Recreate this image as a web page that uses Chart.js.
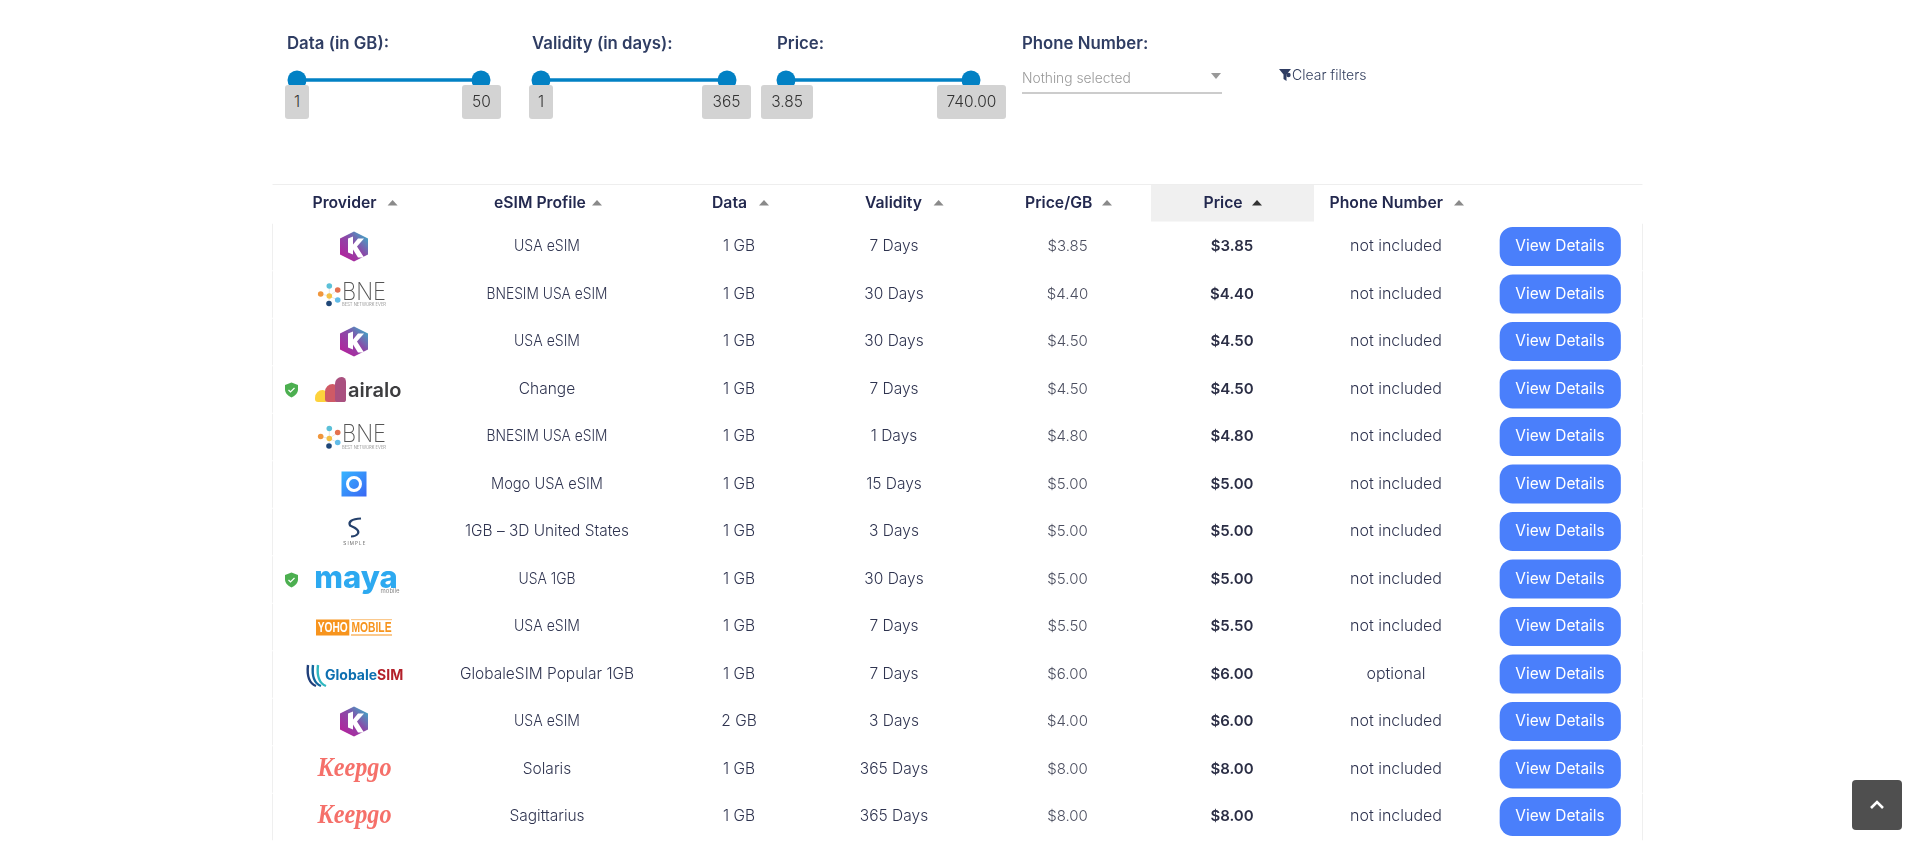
<!DOCTYPE html>
<html>
<head>
<meta charset="utf-8">
<script src="https://cdn.jsdelivr.net/npm/chart.js@4"></script>
<style>
  html, body { margin: 0; background: #fff; overflow: hidden; }
  body { width: 1915px; height: 842px; position: relative; font-family: Inter, sans-serif; }
  #table-chart { position: absolute; left: 0; top: 0; }
  .slider { position: absolute; top: 60px; height: 40px; }
  .flabel { position: absolute; top: 33px; font: 600 16.8px/20px Inter; color: #2f3d63; white-space: nowrap; }
  .fval { position: absolute; top: 85px; height: 34px; background: #d3d3d3; border-radius: 3px;
          font: 300 15.5px/34px Inter; color: #333; text-align: center; }
  #ddtext { position: absolute; left: 1022px; top: 68px; font: 300 13.8px/20px Inter; color: #999; white-space: nowrap; }
  #ddline { position: absolute; left: 1022px; top: 92px; width: 200px; height: 1.5px; background: #ccc; }
  #ddcaret { position: absolute; left: 1211px; top: 73px; width: 0; height: 0;
             border-left: 5px solid transparent; border-right: 5px solid transparent; border-top: 6px solid #999; }
  #clear { position: absolute; left: 1292px; top: 65px; font: 300 14px/20px Inter; color: #333f5e; white-space: nowrap; }
  #funnel { position: absolute; left: 1279px; top: 69px; }
  #totop { position: absolute; left: 1852px; top: 780px; width: 50px; height: 50px; background: #4f4f4f; border-radius: 4px; }
</style>
</head>
<body>
<canvas id="table-chart" width="1915" height="842"></canvas>

<div class="flabel" style="left:287px">Data (in GB):</div>
<div class="flabel" style="left:532px">Validity (in days):</div>
<div class="flabel" style="left:777px">Price:</div>
<div class="flabel" style="left:1022px">Phone Number:</div>

<canvas class="slider" id="slider-data" style="left:277px"></canvas>
<canvas class="slider" id="slider-validity" style="left:521px"></canvas>
<canvas class="slider" id="slider-price" style="left:766px"></canvas>

<div class="fval" style="left:285px;width:24px">1</div>
<div class="fval" style="left:462px;width:39px">50</div>
<div class="fval" style="left:529px;width:24px">1</div>
<div class="fval" style="left:702px;width:49px">365</div>
<div class="fval" style="left:761px;width:52px">3.85</div>
<div class="fval" style="left:937px;width:69px">740.00</div>

<div id="ddtext">Nothing selected</div>
<div id="ddcaret"></div>
<div id="ddline"></div>
<svg id="funnel" width="13" height="12" viewBox="0 0 13 12"><path d="M0 0h12L7.5 5.5V12L4.5 10V5.5z" fill="#2f3d63"/><circle cx="9.5" cy="6" r="2.2" fill="#2f3d63"/></svg>
<div id="clear">Clear filters</div>

<div id="totop"><svg width="50" height="50"><path d="M19 28l6-6 6 6" fill="none" stroke="#fff" stroke-width="2.6"/></svg></div>

<script>
// table content
const headers = ['Provider', 'eSIM Profile', 'Data', 'Validity', 'Price/GB', 'Price', 'Phone Number'];
const providers = ['kolet', 'bne', 'kolet', 'airalo', 'bne', 'mogo', 'simple', 'maya', 'yoho', 'globale', 'kolet', 'keepgo', 'keepgo'];
const profiles = ['USA eSIM', 'BNESIM USA eSIM', 'USA eSIM', 'Change', 'BNESIM USA eSIM', 'Mogo USA eSIM', '1GB – 3D United States',
  'USA 1GB', 'USA eSIM', 'GlobaleSIM Popular 1GB', 'USA eSIM', 'Solaris', 'Sagittarius'];
const dataGb = [1, 1, 1, 1, 1, 1, 1, 1, 1, 1, 2, 1, 1];
const validityDays = [7, 30, 30, 7, 1, 15, 3, 30, 7, 7, 3, 365, 365];
const pricePerGb = [3.85, 4.40, 4.50, 4.50, 4.80, 5.00, 5.00, 5.00, 5.50, 6.00, 4.00, 8.00, 8.00];
const prices = [3.85, 4.40, 4.50, 4.50, 4.80, 5.00, 5.00, 5.00, 5.50, 6.00, 6.00, 8.00, 8.00];
const phoneNumber = ['not included', 'not included', 'not included', 'not included', 'not included', 'not included', 'not included',
  'not included', 'not included', 'optional', 'not included', 'not included', 'not included'];
const verified = ['airalo', 'maya'];

// slider ranges
const dataRange = [1, 50];
const validityRange = [1, 365];
const priceRange = [3.85, 740];

// layout of the table, in pixels of the x scale
const colCenter = [354, 547, 739, 894, 1067.5, 1232, 1396, 1560];
const headLeft = [312.5, 494, 712, 865, 1025, 1203.5, 1329.5];
const headArrow = [392.6, 597, 764, 938.6, 1107, 1257, 1459];
const tableLeft = 272.5, tableRight = 1642.5;
const buttonLeft = 1500, buttonRight = 1620.5;

// the reference font has narrow capitals, so these strings get squeezed a bit
const profileFit = { 'USA eSIM': 66, 'BNESIM USA eSIM': 121, 'Mogo USA eSIM': 112, '1GB – 3D United States': 164, 'USA 1GB': 57 };

const BODY = '300 15.5px Inter';
const BOLD = '600 15px Inter';
const HEAD = '600 15.75px Inter';
const INK = '#2f3450';

function drawText(ctx, text, x, y, font, color, align, maxWidth) {
  ctx.font = font;
  ctx.fillStyle = color;
  ctx.textAlign = align || 'center';
  ctx.textBaseline = 'middle';
  if (maxWidth) ctx.fillText(text, x, y, maxWidth);
  else ctx.fillText(text, x, y);
}

// provider logos, roughly, centred on (x, y)
function drawLogo(ctx, name, x, y) {
  ctx.save();
  ctx.translate(x, y);
  if (name === 'kolet') {
    const g = ctx.createLinearGradient(-12, 12, 12, -12);
    g.addColorStop(0, '#b5209c');
    g.addColorStop(0.55, '#8a4aa8');
    g.addColorStop(1, '#3fa8c6');
    ctx.fillStyle = g;
    ctx.beginPath();
    ctx.moveTo(0, -15); ctx.lineTo(14, -8); ctx.lineTo(14, 8); ctx.lineTo(0, 15); ctx.lineTo(-14, 8); ctx.lineTo(-14, -8);
    ctx.closePath();
    ctx.fill();
    ctx.fillStyle = '#fff';
    ctx.beginPath();
    ctx.moveTo(-6, -8); ctx.lineTo(-1, -10); ctx.lineTo(-1, -2); ctx.lineTo(4, -8); ctx.lineTo(10, -8); ctx.lineTo(3, 0);
    ctx.lineTo(10, 11); ctx.lineTo(4, 11); ctx.lineTo(-1, 3); ctx.lineTo(-1, 8); ctx.lineTo(-6, 6);
    ctx.closePath();
    ctx.fill();
  } else if (name === 'bne') {
    const dots = [[-24.7, -8, '#5bc0d8'], [-16.3, -4, '#e4714f'], [-33.3, 0, '#f0963c'], [-24.7, 2, '#f3c145'], [-16.3, 6, '#62bce8'], [-25, 9.5, '#1f4778']];
    ctx.strokeStyle = '#ddd';
    ctx.lineWidth = 0.7;
    ctx.beginPath();
    dots.forEach(d => { ctx.moveTo(-24.7, 2); ctx.lineTo(d[0], d[1]); });
    ctx.stroke();
    dots.forEach(d => {
      ctx.fillStyle = d[2];
      ctx.beginPath();
      ctx.arc(d[0], d[1], 2.8, 0, Math.PI * 2);
      ctx.fill();
    });
    drawText(ctx, 'BNE', -12, -1.5, '200 24px Inter', '#555', 'left', 44);
    drawText(ctx, 'BEST NETWORK EVER', -12, 11, '300 4.6px Inter', '#777', 'left', 44);
  } else if (name === 'airalo') {
    const hill = (l, t, r, c) => {
      ctx.fillStyle = c;
      ctx.beginPath();
      ctx.roundRect(l, t, r - l, 13 - t, [10, 7, 4, 4]);
      ctx.fill();
    };
    hill(-39, 1, -26, '#fdd23c');
    hill(-29, -5, -16, '#cf5a66');
    hill(-19, -12, -8, '#a9507f');
    drawText(ctx, 'airalo', -6, 1.5, '600 20px Inter', '#3d3d3f', 'left');
  } else if (name === 'mogo') {
    const g = ctx.createLinearGradient(-12, -12, 12, 12);
    g.addColorStop(0, '#35b4ff');
    g.addColorStop(1, '#3a68f4');
    ctx.fillStyle = g;
    ctx.fillRect(-12.5, -12.5, 25, 25);
    ctx.strokeStyle = '#fff';
    ctx.lineWidth = 3;
    ctx.beginPath();
    ctx.arc(0, 0, 6.5, 0, Math.PI * 2);
    ctx.stroke();
  } else if (name === 'simple') {
    ctx.strokeStyle = '#24406b';
    ctx.lineWidth = 2.2;
    ctx.beginPath();
    ctx.moveTo(7, -13); ctx.quadraticCurveTo(-7, -12, -4, -6); ctx.quadraticCurveTo(6, -2, 4, 2); ctx.quadraticCurveTo(2, 5, -3, 5);
    ctx.stroke();
    ctx.letterSpacing = '1.2px';
    drawText(ctx, 'SIMPLE', 1, 12, '300 4.5px Inter', '#333', 'center');
    ctx.letterSpacing = '0px';
  } else if (name === 'maya') {
    drawText(ctx, 'maya', 2, -0.5, '800 31px Inter', '#2da9f0', 'center', 84);
    drawText(ctx, 'mobile', 36, 12, '400 6px Inter', '#888', 'center');
  } else if (name === 'yoho') {
    ctx.fillStyle = '#f7941d';
    ctx.fillRect(-38, -7, 33.3, 16);
    ctx.fillRect(-3, 8, 41, 1);
    ctx.fillRect(-3, -7, 41, 0.6);
    drawText(ctx, 'YOHO', -21.3, 1.5, '700 15px "Liberation Sans"', '#fff', 'center', 30);
    drawText(ctx, 'MOBILE', 17.5, 1.5, '700 15px "Liberation Sans"', '#f7941d', 'center', 40);
  } else if (name === 'globale') {
    ctx.lineWidth = 2.4;
    [['#1f3f7a', -46], ['#12669e', -41], ['#2fb8c0', -36]].forEach(s => {
      ctx.strokeStyle = s[0];
      ctx.beginPath();
      ctx.moveTo(s[1], -9);
      ctx.quadraticCurveTo(s[1] - 2, 8, s[1] + 8, 12);
      ctx.stroke();
    });
    drawText(ctx, 'Globale', -29, 2, '700 14px Inter', '#0d6fb0', 'left');
    ctx.font = '700 14px Inter';
    const w = ctx.measureText('Globale').width;
    drawText(ctx, 'SIM', -29 + w, 2, '700 14px Inter', '#b3202a', 'left');
  } else if (name === 'keepgo') {
    drawText(ctx, 'Keepgo', 0.5, 0, 'italic 700 27px "Liberation Serif"', '#f5706a', 'center', 74);
  }
  ctx.restore();
}

function drawShield(ctx, x, y) {
  ctx.save();
  ctx.translate(x, y);
  ctx.fillStyle = '#4caf50';
  ctx.beginPath();
  ctx.moveTo(0, -7.5); ctx.lineTo(6.5, -5); ctx.lineTo(6.5, 0);
  ctx.quadraticCurveTo(6, 5, 0, 7.5);
  ctx.quadraticCurveTo(-6, 5, -6.5, 0);
  ctx.lineTo(-6.5, -5);
  ctx.closePath();
  ctx.fill();
  ctx.strokeStyle = '#fff';
  ctx.lineWidth = 1.2;
  ctx.beginPath();
  ctx.moveTo(-3, 0); ctx.lineTo(-1, 2); ctx.lineTo(3, -2);
  ctx.stroke();
  ctx.restore();
}

// header strip, cell text and logos are hung on the chart's scales
const tablePlugin = {
  id: 'tablePlugin',
  beforeDatasetsDraw(chart) {
    const { ctx } = chart;
    const x = chart.scales.x, y = chart.scales.y;
    const rowH = y.getPixelForValue(1) - y.getPixelForValue(0);
    const headY = 203;

    ctx.save();
    ctx.fillStyle = '#f0f0f0';
    ctx.fillRect(x.getPixelForValue(1151), headY - 18.5, 163, 37);
    ctx.fillStyle = '#eeeeee';
    ctx.fillRect(x.getPixelForValue(tableLeft), headY - 19, tableRight - tableLeft, 1);

    headers.forEach((h, i) => {
      drawText(ctx, h, x.getPixelForValue(headLeft[i]), headY, HEAD, '#23294f', 'left');
      ctx.fillStyle = h === 'Price' ? '#333' : '#8a8a8a';
      const ax = x.getPixelForValue(headArrow[i]);
      ctx.beginPath();
      ctx.moveTo(ax - 5, headY + 2.5); ctx.lineTo(ax + 5, headY + 2.5); ctx.lineTo(ax, headY - 3);
      ctx.closePath();
      ctx.fill();
    });

    providers.forEach((p, r) => {
      const cy = y.getPixelForValue(r);
      ctx.fillStyle = '#efefef';
      ctx.fillRect(x.getPixelForValue(tableLeft) - 0.5, cy - rowH / 2 + 1, 1, rowH - 1);
      ctx.fillRect(x.getPixelForValue(tableRight) - 0.5, cy - rowH / 2 + 1, 1, rowH - 1);

      drawLogo(ctx, p, x.getPixelForValue(colCenter[0]), cy);
      if (verified.includes(p)) drawShield(ctx, x.getPixelForValue(291.5), cy + 1);

      drawText(ctx, profiles[r], x.getPixelForValue(colCenter[1]), cy, BODY, INK, 'center', profileFit[profiles[r]]);
      drawText(ctx, dataGb[r] + ' GB', x.getPixelForValue(colCenter[2]), cy, BODY, INK);
      drawText(ctx, validityDays[r] + ' Days', x.getPixelForValue(colCenter[3]), cy, BODY, INK);
      drawText(ctx, '$' + pricePerGb[r].toFixed(2), x.getPixelForValue(colCenter[4]), cy, '300 15px Inter', '#4c4f60');
      drawText(ctx, '$' + prices[r].toFixed(2), x.getPixelForValue(colCenter[5]), cy, BOLD, '#2b2e45');
      drawText(ctx, phoneNumber[r], x.getPixelForValue(colCenter[6]), cy, '300 16px Inter', INK);
    });
    ctx.restore();
  },
  afterDatasetsDraw(chart) {
    const { ctx } = chart;
    const x = chart.scales.x, y = chart.scales.y;
    providers.forEach((p, r) => {
      drawText(ctx, 'View Details', x.getPixelForValue(colCenter[7]), y.getPixelForValue(r), '400 15.4px Inter', '#fff');
    });
  }
};

new Chart(document.getElementById('table-chart'), {
  type: 'bar',
  plugins: [tablePlugin],
  data: {
    labels: providers.map((p, i) => i),
    datasets: [{
      data: providers.map(() => [buttonLeft, buttonRight]),
      backgroundColor: '#4a7ffb',
      borderRadius: 13,
      borderSkipped: false,
      barThickness: 38.5
    }]
  },
  options: {
    indexAxis: 'y',
    responsive: false,
    animation: false,
    layout: { padding: { top: 222.75, bottom: 1.75, left: 0, right: 0 } },
    scales: {
      x: { type: 'linear', min: 0, max: 1915, display: false },
      y: { type: 'category', display: false }
    },
    plugins: { legend: { display: false }, tooltip: { enabled: false } }
  }
});

function renderSlider(id, range, width) {
  const el = document.getElementById(id);
  el.width = width;
  el.height = 40;
  el.style.width = width + 'px';
  new Chart(el, {
    type: 'line',
    data: {
      datasets: [{
        data: range.map(v => ({ x: v, y: 0.5 })),
        borderColor: '#0281c4',
        backgroundColor: '#0281c4',
        borderWidth: 3.5,
        pointRadius: 9.5,
        pointBorderWidth: 0,
        clip: false
      }]
    },
    options: {
      responsive: false,
      animation: false,
      layout: { padding: { left: 20, right: 20, top: 0, bottom: 0 } },
      scales: {
        x: { type: 'linear', min: range[0], max: range[1], display: false },
        y: { min: 0, max: 1, display: false }
      },
      plugins: { legend: { display: false }, tooltip: { enabled: false } }
    }
  });
}

renderSlider('slider-data', dataRange, 224);
renderSlider('slider-validity', validityRange, 226);
renderSlider('slider-price', priceRange, 225);
</script>
</body>
</html>
